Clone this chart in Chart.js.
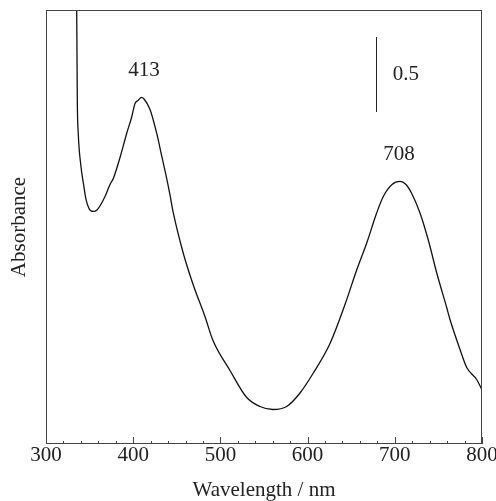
<!DOCTYPE html>
<html>
<head>
<meta charset="utf-8">
<script src="https://cdn.jsdelivr.net/npm/chart.js@4.4.0/dist/chart.umd.min.js"></script>
<style>
    html, body { margin: 0; padding: 0; background: #fff; }
    #wrap { width: 496px; height: 501px; }
</style>
</head>
<body>
<div id="wrap"><canvas id="spectrum" width="496" height="501"></canvas></div>
<script>
'use strict';

// wavelength (nm) and absorbance
let wavelength = [334.5, 335.2, 335.9, 337.0, 340.1, 342.8, 345.9, 349.3, 353.9, 358.5,
    367.7, 373.4, 377.2, 384.9, 392.5, 398.3, 402.1, 405.5, 409.5, 412.4,
    419.3, 427.0, 432.7, 438.4, 442.2, 446.0, 457.5, 468.9, 482.3, 491.5,
    511.0, 530.2, 545.4, 560.3, 576.0, 591.3, 606.2, 625.7, 642.9, 656.3,
    667.8, 679.2, 686.8, 696.8, 706.0, 712.8, 719.4, 728.9, 738.4, 748.1,
    759.5, 763.3, 774.8, 782.5, 793.9, 800.0];
let absorbance = [3.10, 2.89, 2.29, 2.07, 1.85, 1.74, 1.63, 1.57, 1.55, 1.56,
    1.65, 1.73, 1.77, 1.91, 2.07, 2.18, 2.27, 2.29, 2.31, 2.30,
    2.23, 2.07, 1.92, 1.77, 1.66, 1.54, 1.27, 1.06, 0.85, 0.69,
    0.49, 0.31, 0.25, 0.23, 0.25, 0.34, 0.47, 0.67, 0.93, 1.16,
    1.34, 1.54, 1.65, 1.73, 1.75, 1.73, 1.67, 1.54, 1.36, 1.14,
    0.91, 0.83, 0.63, 0.51, 0.43, 0.36];

// x axis ticks
let majorTicks = [300, 400, 500, 600, 700, 800];
let minorTicks = [];
for (let w = 320; w < 800; w += 20) {
    if (w % 100 !== 0) minorTicks.push(w);
}

// peak labels
let peakLabels = ['413', '708'];
let peakX = [412.4, 704.8];
let peakY = [2.49, 1.93];

// 0.5 absorbance scale bar
let barX = 679;
let barTop = 2.713;
let barSize = 0.5;
let barLabel = '0.5';
let barLabelX = 712.8;

const serif = '"Liberation Serif", "DejaVu Serif", serif';

let points = wavelength.map(function (w, i) {
    return {x: w, y: absorbance[i]};
});

// frame, inward ticks, peak labels and scale bar
let decorations = {
    id: 'decorations',
    afterDraw: function (chart) {
        let ctx = chart.ctx;
        let area = chart.chartArea;
        let xs = chart.scales.x;
        let ys = chart.scales.y;

        ctx.save();
        ctx.strokeStyle = '#444';
        ctx.lineWidth = 1;
        ctx.strokeRect(area.left + 0.5, area.top + 0.5, area.right - area.left - 1, area.bottom - area.top - 1);

        ctx.beginPath();
        majorTicks.forEach(function (t) {
            let px = Math.round(xs.getPixelForValue(t)) + 0.5;
            ctx.moveTo(px, area.bottom);
            ctx.lineTo(px, area.bottom - 7);
        });
        minorTicks.forEach(function (t) {
            let px = Math.round(xs.getPixelForValue(t)) + 0.5;
            ctx.moveTo(px, area.bottom);
            ctx.lineTo(px, area.bottom - 3);
        });
        ctx.stroke();

        // scale bar
        ctx.strokeStyle = '#222';
        ctx.beginPath();
        let bx = Math.round(xs.getPixelForValue(barX)) + 0.5;
        ctx.moveTo(bx, ys.getPixelForValue(barTop));
        ctx.lineTo(bx, ys.getPixelForValue(barTop - barSize));
        ctx.stroke();

        ctx.fillStyle = '#222';
        ctx.font = '21px ' + serif;
        ctx.textAlign = 'center';
        ctx.textBaseline = 'middle';
        ctx.fillText(barLabel, xs.getPixelForValue(barLabelX), ys.getPixelForValue(barTop - barSize / 2));
        peakLabels.forEach(function (label, i) {
            ctx.fillText(label, xs.getPixelForValue(peakX[i]), ys.getPixelForValue(peakY[i]));
        });
        ctx.restore();
    }
};

new Chart(document.getElementById('spectrum'), {
    type: 'line',
    data: {
        datasets: [
            {
                label: 'Absorbance',
                data: points,
                borderColor: '#111',
                borderWidth: 1.3,
                pointRadius: 0,
                fill: false,
                cubicInterpolationMode: 'monotone'
            }
        ]
    },
    options: {
        responsive: false,
        animation: false,
        devicePixelRatio: 1,
        layout: {padding: {top: 10, right: 14, left: 0, bottom: 0}},
        plugins: {
            legend: {display: false},
            tooltip: {enabled: false}
        },
        scales: {
            x: {
                type: 'linear',
                min: 300,
                max: 800,
                grid: {display: false},
                border: {display: false},
                ticks: {
                    stepSize: 100,
                    padding: -9,
                    color: '#222',
                    font: {family: serif, size: 21}
                },
                title: {
                    display: true,
                    text: 'Wavelength / nm',
                    color: '#222',
                    font: {family: serif, size: 21, lineHeight: 1},
                    padding: {top: 0, bottom: 0}
                },
                afterFit: function (scale) {
                    scale.height = 57;
                }
            },
            y: {
                min: 0,
                max: 2.893,
                grid: {display: false},
                border: {display: false},
                ticks: {display: false},
                title: {
                    display: true,
                    text: 'Absorbance',
                    color: '#222',
                    font: {family: serif, size: 21, lineHeight: 1},
                    padding: {top: 9, bottom: 0}
                },
                afterFit: function (scale) {
                    scale.width = 46;
                }
            }
        }
    },
    plugins: [decorations]
});
</script>
</body>
</html>
